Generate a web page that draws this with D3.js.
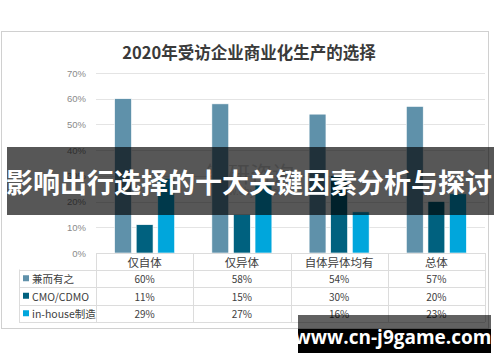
<!DOCTYPE html>
<html><head><meta charset="utf-8">
<script src="https://cdn.jsdelivr.net/npm/d3@7"></script>
<style>
html,body{margin:0;padding:0;background:#fff;}
svg{display:block;font-family:"Noto Sans CJK SC","Noto Sans",sans-serif;}
</style></head>
<body><svg id="c" width="500" height="362"></svg>
<script>
const title = "2020年受访企业商业化生产的选择";
const categories = ["仅自体", "仅异体", "自体异体均有", "总体"];
const seriesNames = ["兼而有之", "CMO/CDMO", "in-house制造"];
const seriesColors = ["#5f91aa", "#00617f", "#00a6dc"];
const valuesBoth = [0.60, 0.58, 0.54, 0.57];
const valuesCMO = [0.11, 0.15, 0.30, 0.20];
const valuesInHouse = [0.29, 0.27, 0.16, 0.23];
const yTicks = [0, 0.1, 0.2, 0.3, 0.4, 0.5, 0.6, 0.7];
const overlayText = "影响出行选择的十大关键因素分析与探讨";
const watermarkText = "www.cn-j9game.com";

const seriesValues = [valuesBoth, valuesCMO, valuesInHouse];
const svg = d3.select("#c");

// chart border
svg.append("rect").attr("x", 1.5).attr("y", 31.5).attr("width", 487).attr("height", 297)
  .attr("fill", "#fff").attr("stroke", "#d0d0d0").attr("stroke-width", 1);

svg.append("text").attr("x", 249).attr("y", 52).attr("text-anchor", "middle")
  .attr("dominant-baseline", "central").attr("font-size", 16.5).attr("font-weight", "bold")
  .attr("fill", "#3a3a3a").text(title);

const left = 96, right = 485;
const y = d3.scaleLinear().domain([0, 0.7]).range([253, 73]);
const x0 = d3.scaleBand().domain(categories).range([left, right]).padding(0);
const x1 = d3.scaleBand().domain(seriesNames).range([0, 60]).paddingInner(0.22).paddingOuter(0);
const groupOffset = (x0.bandwidth() - 60) / 2;

// gridlines
svg.append("g").selectAll("line").data(yTicks.filter(d => d > 0)).join("line")
  .attr("x1", left).attr("x2", right)
  .attr("y1", d => Math.round(y(d)) + 0.5).attr("y2", d => Math.round(y(d)) + 0.5)
  .attr("stroke", "#e4e4e4").attr("stroke-width", 1);

// y axis labels
const yAxis = d3.axisLeft(y).tickValues(yTicks).tickFormat(d3.format(".0%")).tickSize(0).tickPadding(0);
const ga = svg.append("g").attr("transform", "translate(86,0)").call(yAxis);
ga.select(".domain").remove();
ga.selectAll("text").attr("fill", "#8a8a8a").attr("font-size", 9.5)
  .attr("font-family", "'Liberation Sans', sans-serif");

// faint watermark
const wm = svg.append("g").attr("opacity", 0.35);
wm.append("text").attr("x", 250).attr("y", 172).attr("text-anchor", "middle")
  .attr("dominant-baseline", "central").attr("font-size", 22).attr("fill", "#888").text("智研咨询");
wm.append("text").attr("x", 250).attr("y", 190).attr("text-anchor", "middle")
  .attr("dominant-baseline", "central").attr("font-size", 10).attr("fill", "#888").text("www.chyxx.com");

// bars
const bars = svg.append("g");
seriesNames.forEach((s, si) => {
  bars.append("g").selectAll("rect").data(categories).join("rect")
    .attr("x", c => x0(c) + groupOffset + x1(s))
    .attr("width", x1.bandwidth())
    .attr("y", (c, i) => y(seriesValues[si][i]))
    .attr("height", (c, i) => y(0) - y(seriesValues[si][i]))
    .attr("fill", seriesColors[si])
    .attr("stroke", "#ffffff").attr("stroke-width", 0.6);
});

// data table
const tableTop = 253, headerH = 16.5, rowH = 17.5, tableLeft = 19;
const grid = "#dcdcdc";
const tg = svg.append("g");
tg.append("rect").attr("x", left).attr("y", tableTop).attr("width", right - left).attr("height", headerH + rowH * 3).attr("fill", "#fff");
tg.append("rect").attr("x", tableLeft).attr("y", tableTop + headerH).attr("width", left - tableLeft).attr("height", rowH * 3).attr("fill", "#fff");
const hLines = [tableTop, tableTop + headerH, tableTop + headerH + rowH, tableTop + headerH + 2 * rowH, tableTop + headerH + 3 * rowH];
hLines.forEach((yy, i) => {
  tg.append("line").attr("x1", i === 0 ? left : tableLeft).attr("x2", right)
    .attr("y1", Math.round(yy) + 0.5).attr("y2", Math.round(yy) + 0.5)
    .attr("stroke", grid);
});
const vxs = [left].concat(categories.map(c => x0(c) + x0.bandwidth()));
vxs.forEach(vx => {
  tg.append("line").attr("x1", Math.round(vx) + 0.5).attr("x2", Math.round(vx) + 0.5)
    .attr("y1", tableTop).attr("y2", tableTop + headerH + rowH * 3).attr("stroke", grid);
});
tg.append("line").attr("x1", tableLeft + 0.5).attr("x2", tableLeft + 0.5)
  .attr("y1", tableTop + headerH).attr("y2", tableTop + headerH + rowH * 3).attr("stroke", grid);
tg.selectAll("text.h").data(categories).join("text").attr("class", "h")
  .attr("x", c => x0(c) + x0.bandwidth() / 2).attr("y", tableTop + headerH / 2 + 0.5)
  .attr("text-anchor", "middle").attr("dominant-baseline", "central")
  .attr("font-size", 11.5).attr("fill", "#404040").text(c => c);
seriesNames.forEach((s, si) => {
  const cy = tableTop + headerH + rowH * si + rowH / 2;
  tg.append("rect").attr("x", 23).attr("y", cy - 3).attr("width", 6).attr("height", 6).attr("fill", seriesColors[si]);
  tg.append("text").attr("x", 32).attr("y", cy + 0.5).attr("dominant-baseline", "central")
    .attr("font-size", 10.5).attr("fill", "#404040").text(s);
  tg.append("g").selectAll("text").data(categories).join("text")
    .attr("x", c => x0(c) + x0.bandwidth() / 2).attr("y", cy + 0.5)
    .attr("text-anchor", "middle").attr("dominant-baseline", "central")
    .attr("font-size", 10).attr("fill", "#404040")
    .text((c, i) => d3.format(".0%")(seriesValues[si][i]));
});

// overlay band
svg.append("rect").attr("x", 7).attr("y", 147).attr("width", 487).attr("height", 68)
  .attr("fill", "#000").attr("fill-opacity", 0.66);
svg.append("text").attr("x", 249).attr("y", 181).attr("text-anchor", "middle")
  .attr("dominant-baseline", "central").attr("font-size", 27).attr("font-weight", "bold")
  .attr("fill", "#fff").text(overlayText);

// bottom watermark box
svg.append("rect").attr("x", 298).attr("y", 315).attr("width", 193).attr("height", 14)
  .attr("fill", "#000").attr("fill-opacity", 0.62);
svg.append("rect").attr("x", 298).attr("y", 329).attr("width", 193).attr("height", 24)
  .attr("fill", "#000");
svg.append("text").attr("x", 393).attr("y", 337).attr("text-anchor", "middle")
  .attr("dominant-baseline", "central").attr("font-size", 19).attr("font-weight", "bold")
  .attr("font-family", "'Open Sans','DejaVu Sans',sans-serif")
  .attr("fill", "#fff").text(watermarkText);
</script></body></html>
